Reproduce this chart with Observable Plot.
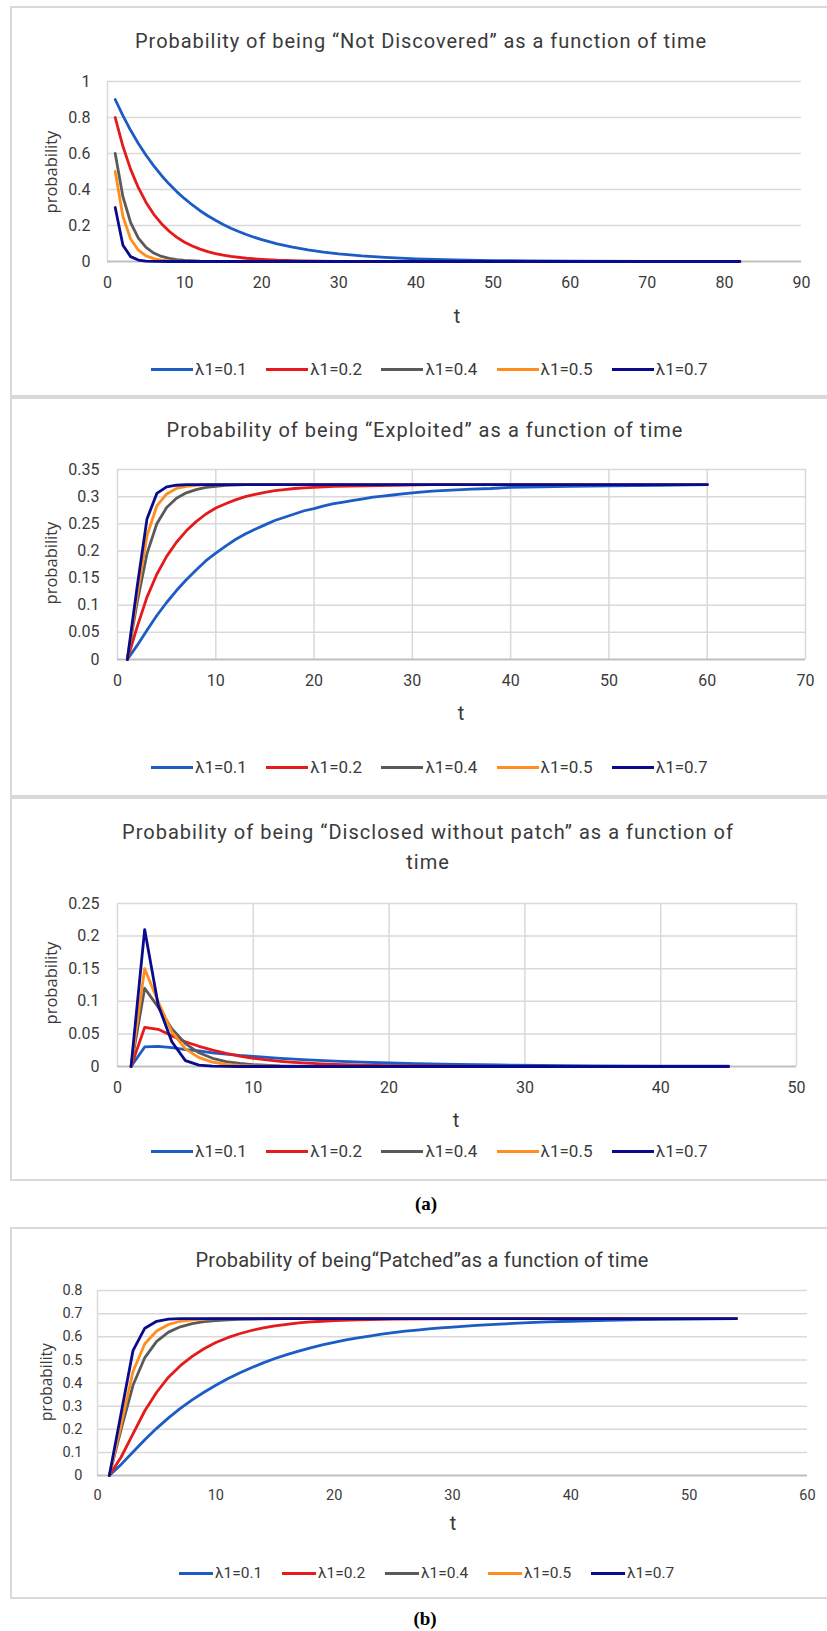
<!DOCTYPE html>
<html><head><meta charset="utf-8">
<script src="https://cdn.jsdelivr.net/npm/d3@7"></script>
<script src="https://cdn.jsdelivr.net/npm/@observablehq/plot@0.6"></script>
<style>
html,body{margin:0;padding:0;background:#fff;}
#page{position:relative;width:827px;height:1631px;overflow:hidden;background:#fff;font-family:Roboto,sans-serif;color:#3a3a3a;}
.box{position:absolute;left:10px;width:850px;border:2px solid #d9d9d9;box-sizing:border-box;}
.abs{position:absolute;white-space:nowrap;line-height:1;}
.c{transform:translate(-50%,-50%);}
.ylab{font-family:"Open Sans",sans-serif;transform:translate(-50%,-50%) rotate(-90deg);}
.leg{position:absolute;display:flex;align-items:center;transform:translateY(-50%);}
.item{display:flex;align-items:center;}
.sw{height:3px;margin-right:2px;}
.cap{font-family:"Liberation Serif",serif;font-weight:bold;color:#000;font-size:19px;}
svg{position:absolute;left:0;}
</style></head>
<body><div id="page"></div>
<script>
// ---------- data ----------
const lambdas = ["λ1=0.1", "λ1=0.2", "λ1=0.4", "λ1=0.5", "λ1=0.7"];
const colors = ["#1c5cc4", "#e41a1c", "#5a5a5a", "#ff8e1c", "#0a0a8c"];

// Not Discovered  [t, probability]
const nd01 = [[1,.9],[2,.81],[3,.729],[4,.656],[5,.59],[6,.531],[7,.478],[8,.43],[9,.387],[10,.349],[11,.314],[12,.282],[13,.254],[14,.229],[15,.206],[16,.185],[17,.167],[18,.15],[19,.135],[20,.122],[22,.098],[24,.08],[26,.065],[28,.052],[30,.042],[33,.031],[36,.023],[40,.015],[45,.009],[50,.005],[55,.003],[60,.002],[70,.001],[82,0]];
const nd02 = [[1,.8],[2,.64],[3,.512],[4,.41],[5,.328],[6,.262],[7,.21],[8,.168],[9,.134],[10,.107],[11,.086],[12,.069],[13,.055],[14,.044],[15,.035],[16,.028],[18,.018],[20,.012],[22,.007],[25,.004],[30,.001],[40,0],[82,0]];
const nd04 = [[1,.6],[2,.36],[3,.216],[4,.13],[5,.078],[6,.047],[7,.028],[8,.017],[9,.01],[10,.006],[12,.002],[15,0],[82,0]];
const nd05 = [[1,.5],[2,.25],[3,.125],[4,.063],[5,.031],[6,.016],[7,.008],[8,.004],[10,.001],[14,0],[82,0]];
const nd07 = [[1,.3],[2,.09],[3,.027],[4,.008],[5,.002],[6,.001],[8,0],[82,0]];

// Exploited
const ex01 = [[1,0],[2,.026],[3,.054],[4,.081],[5,.105],[6,.127],[7,.147],[8,.165],[9,.182],[10,.196],[11,.209],[12,.221],[13,.231],[14,.24],[15,.248],[16,.256],[17,.262],[18,.268],[19,.274],[20,.278],[21,.283],[22,.287],[23,.29],[24,.293],[25,.296],[26,.299],[27,.301],[28,.303],[29,.305],[30,.307],[32,.31],[34,.312],[36,.314],[38,.315],[40,.317],[43,.318],[46,.319],[50,.32],[55,.321],[60,.322]];
const ex02 = [[1,0],[2,.06],[3,.115],[4,.157],[5,.19],[6,.216],[7,.237],[8,.254],[9,.268],[10,.279],[11,.287],[12,.294],[13,.3],[14,.304],[15,.308],[16,.311],[17,.313],[18,.315],[19,.316],[20,.317],[22,.319],[25,.32],[28,.321],[32,.322],[60,.322]];
const ex04 = [[1,0],[2,.105],[3,.195],[4,.25],[5,.28],[6,.297],[7,.307],[8,.313],[9,.317],[10,.319],[11,.321],[13,.322],[60,.322]];
const ex05 = [[1,0],[2,.118],[3,.228],[4,.283],[5,.305],[6,.315],[7,.319],[8,.321],[9,.322],[60,.322]];
const ex07 = [[1,0],[2,.134],[3,.259],[4,.306],[5,.318],[6,.321],[7,.322],[60,.322]];

// Disclosed without patch
const di01 = [[1,0],[2,.03],[3,.031],[4,.029],[5,.026],[6,.024],[7,.021],[8,.019],[9,.017],[10,.0155],[12,.0126],[14,.0102],[16,.0083],[18,.0067],[20,.0054],[22,.0044],[25,.0032],[28,.0023],[31,.0017],[35,.0011],[40,.0007],[45,.0004]];
const di02 = [[1,0],[2,.06],[3,.057],[4,.047],[5,.038],[6,.031],[7,.025],[8,.02],[9,.016],[10,.0125],[11,.01],[12,.008],[13,.0064],[14,.0051],[15,.0041],[16,.0033],[18,.0021],[20,.0013],[25,.0004],[30,.0001],[45,0]];
const di04 = [[1,0],[2,.12],[3,.091],[4,.058],[5,.035],[6,.021],[7,.0126],[8,.0076],[9,.0046],[10,.0027],[12,.001],[15,.0002],[20,0],[45,0]];
const di05 = [[1,0],[2,.15],[3,.099],[4,.053],[5,.027],[6,.0136],[7,.0068],[8,.0034],[9,.0017],[10,.0008],[13,.0001],[20,0],[45,0]];
const di07 = [[1,0],[2,.21],[3,.094],[4,.038],[5,.009],[6,.002],[7,.0005],[9,0],[45,0]];

// Patched
const pa01 = [[1,0],[2,.048],[3,.102],[4,.155],[5,.204],[6,.249],[7,.29],[8,.327],[9,.36],[10,.39],[11,.418],[12,.443],[13,.466],[14,.487],[15,.506],[16,.523],[17,.538],[18,.552],[19,.565],[20,.576],[21,.586],[22,.595],[23,.603],[24,.611],[25,.618],[26,.624],[27,.629],[28,.634],[29,.638],[30,.642],[32,.649],[34,.655],[36,.66],[38,.664],[40,.667],[43,.671],[46,.674],[50,.676],[54,.678]];
const pa02 = [[1,0],[2,.08],[3,.18],[4,.28],[5,.36],[6,.425],[7,.475],[8,.515],[9,.548],[10,.575],[11,.596],[12,.613],[13,.627],[14,.638],[15,.647],[16,.654],[17,.66],[18,.664],[19,.667],[20,.67],[22,.673],[25,.676],[28,.677],[32,.678],[54,.678]];
const pa04 = [[1,0],[2,.2],[3,.39],[4,.51],[5,.58],[6,.62],[7,.643],[8,.657],[9,.665],[10,.67],[11,.673],[12,.675],[14,.677],[16,.678],[54,.678]];
const pa05 = [[1,0],[2,.22],[3,.45],[4,.57],[5,.625],[6,.653],[7,.667],[8,.673],[9,.676],[10,.678],[54,.678]];
const pa07 = [[1,0],[2,.27],[3,.54],[4,.637],[5,.667],[6,.676],[7,.678],[54,.678]];

// tick values
const xTicks1 = [0,10,20,30,40,50,60,70,80,90];
const yTicks1 = [0,0.2,0.4,0.6,0.8,1];
const xTicks2 = [0,10,20,30,40,50,60,70];
const yTicks2 = [0,0.05,0.1,0.15,0.2,0.25,0.3,0.35];
const xTicks3 = [0,10,20,30,40,50];
const yTicks3 = [0,0.05,0.1,0.15,0.2,0.25];
const xTicks4 = [0,10,20,30,40,50,60];
const yTicks4 = [0,0.1,0.2,0.3,0.4,0.5,0.6,0.7,0.8];

const titles = [
  ["Probability of being “Not Discovered” as a function of time"],
  ["Probability of being “Exploited” as a function of time"],
  ["Probability of being “Disclosed without patch” as a function of", "time"],
  ["Probability of being“Patched”as a function of time"]
];
const xLabel = "t", yLabel = "probability", captions = ["(a)", "(b)"];

// ---------- layout ----------
const page = document.getElementById("page");
function div(cls, text, x, y, extra) {
  const d = document.createElement("div");
  d.className = "abs " + cls;
  d.textContent = text;
  d.style.left = x + "px"; d.style.top = y + "px";
  Object.assign(d.style, extra || {});
  page.appendChild(d);
  return d;
}
function fit(el, w) {
  const r = el.getBoundingClientRect().width;
  const n = el.textContent.length;
  el.style.letterSpacing = ((w - r) / n) + "px";
}
function box(top, bottom) {
  const b = document.createElement("div");
  b.className = "box"; b.style.top = top + "px"; b.style.height = (bottom - top) + "px";
  page.appendChild(b);
}
const fmt = d => String(+d.toFixed(3));

function chart(cfg) {
  const rows = cfg.series.flatMap((arr, i) => arr.map(([t, p]) => ({t, p, s: lambdas[i]})));
  const grid = {stroke: "#d9d9d9", strokeOpacity: 1, strokeWidth: 1.5};
  const svg = Plot.plot({
    width: 827, height: cfg.height,
    marginLeft: cfg.mL, marginRight: cfg.mR, marginTop: cfg.mT, marginBottom: cfg.mB,
    style: {fontFamily: "Roboto, sans-serif", fontSize: cfg.fs + "px", color: "#3a3a3a", background: "transparent", overflow: "visible"},
    x: {domain: [cfg.xTicks[0], cfg.xTicks[cfg.xTicks.length - 1]]},
    y: {domain: [cfg.yTicks[0], cfg.yTicks[cfg.yTicks.length - 1]]},
    color: {domain: lambdas, range: colors},
    marks: [
      Plot.gridY(cfg.yTicks.slice(1), grid),
      cfg.gridX ? Plot.gridX(cfg.xTicks.slice(1), grid) : null,
      Plot.ruleX([cfg.xTicks[0]], grid),
      Plot.axisX(cfg.xTicks, {tickSize: 0, tickPadding: cfg.xPad, tickFormat: fmt, label: null}),
      Plot.axisY(cfg.yTicks, {tickSize: 0, tickPadding: cfg.yPad, tickFormat: fmt, label: null}),
      Plot.ruleY([0], {stroke: "#bfbfbf", strokeWidth: 2}),
      Plot.line(rows, {x: "t", y: "p", z: "s", stroke: "s", strokeWidth: 2.8, strokeLinejoin: "round", strokeLinecap: "round"})
    ]
  });
  svg.style.top = cfg.top + "px";
  page.appendChild(svg);
}

function legend(x, y, pitch, lineW, fs) {
  const L = document.createElement("div");
  L.className = "leg"; L.style.left = x + "px"; L.style.top = y + "px"; L.style.fontSize = fs + "px";
  lambdas.forEach((name, i) => {
    const it = document.createElement("div");
    it.className = "item"; it.style.width = pitch + "px";
    const sw = document.createElement("div");
    sw.className = "sw"; sw.style.width = lineW + "px"; sw.style.background = colors[i];
    const tx = document.createElement("span"); tx.textContent = name;
    it.appendChild(sw); it.appendChild(tx); L.appendChild(it);
  });
  page.appendChild(L);
}

// panel boxes
box(6, 397); box(397, 797); box(797, 1181); box(1227, 1599);

// panel 1
chart({series: [nd01, nd02, nd04, nd05, nd07], top: 66, height: 235, mL: 107, mR: 26, mT: 15, mB: 40,
  xTicks: xTicks1, yTicks: yTicks1, gridX: false, fs: 16, xPad: 15, yPad: 17});
// panel 2
chart({series: [ex01, ex02, ex04, ex05, ex07], top: 454, height: 245, mL: 117, mR: 22, mT: 15, mB: 40,
  xTicks: xTicks2, yTicks: yTicks2, gridX: true, fs: 16, xPad: 15, yPad: 18});
// panel 3
chart({series: [di01, di02, di04, di05, di07], top: 888, height: 218, mL: 117, mR: 31, mT: 15, mB: 40,
  xTicks: xTicks3, yTicks: yTicks3, gridX: true, fs: 16, xPad: 15, yPad: 18});
// panel 4
chart({series: [pa01, pa02, pa04, pa05, pa07], top: 1275, height: 240, mL: 97, mR: 20, mT: 15, mB: 40,
  xTicks: xTicks4, yTicks: yTicks4, gridX: false, fs: 14.5, xPad: 14, yPad: 15});

// titles
const TF = {fontSize: "20px"};
fit(div("c", titles[0][0], 421, 41, TF), 572);
fit(div("c", titles[1][0], 425, 430, TF), 517);
const t3a = div("c", titles[2][0], 428, 832, TF); fit(t3a, 612);
const t3b = div("c", titles[2][1], 428, 862, TF); t3b.style.letterSpacing = t3a.style.letterSpacing;
fit(div("c", titles[3][0], 422, 1260, TF), 453);

// axis labels
[[457, 316], [461, 713], [456, 1120], [453, 1523]].forEach(([x, y]) => div("c", xLabel, x, y, {fontSize: "20px"}));
[[51, 172, 16.5], [51, 563, 16.5], [51, 983, 16.5], [47, 1382, 15.5]].forEach(([x, y, f]) => div("ylab", yLabel, x, y, {fontSize: f + "px"}));

// legends
legend(151, 369, 115.2, 42, 17);
legend(151, 767, 115.2, 42, 17);
legend(151, 1151, 115.2, 42, 17);
legend(179, 1573, 103, 34, 15.5);

// captions
div("c cap", captions[0], 426, 1203);
div("c cap", captions[1], 425, 1618);
</script></body></html>
